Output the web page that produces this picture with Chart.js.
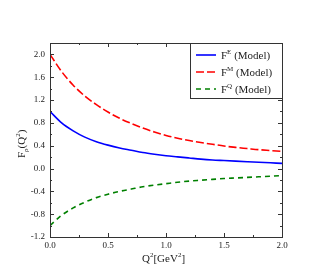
<!DOCTYPE html>
<html>
<head>
<meta charset="utf-8">
<script src="https://cdn.jsdelivr.net/npm/chart.js@4/dist/chart.umd.min.js"></script>
<style>
  html, body { margin: 0; padding: 0; background: #fff; }
  #wrap { width: 334px; height: 278px; }
</style>
</head>
<body>
<div id="wrap"><canvas id="myChart" width="334" height="278"></canvas></div>
<script>
// Q^2 values [GeV^2]
const q2 = [0.0, 0.1, 0.2, 0.3, 0.4, 0.5, 0.6, 0.7, 0.8, 0.9, 1.0,
            1.1, 1.2, 1.3, 1.4, 1.5, 1.6, 1.7, 1.8, 1.9, 2.0];

// form factors
const fE = [1.00, 0.80, 0.66, 0.55, 0.47, 0.41, 0.36, 0.32, 0.28, 0.25, 0.225,
            0.205, 0.185, 0.165, 0.15, 0.14, 0.13, 0.12, 0.11, 0.10, 0.09];
const fM = [2.00, 1.70, 1.46, 1.27, 1.12, 0.99, 0.88, 0.79, 0.71, 0.64, 0.58,
            0.53, 0.49, 0.455, 0.425, 0.395, 0.37, 0.35, 0.33, 0.315, 0.30];
const fQ = [-1.00, -0.82, -0.69, -0.59, -0.51, -0.45, -0.40, -0.36, -0.32, -0.29, -0.265,
            -0.24, -0.22, -0.205, -0.19, -0.175, -0.165, -0.155, -0.145, -0.135, -0.125];

const xTicks = [0.0, 0.5, 1.0, 1.5, 2.0];
const yTicks = [-1.2, -0.8, -0.4, 0.0, 0.4, 0.8, 1.2, 1.6, 2.0];
const xMinor = [0.25, 0.75, 1.25, 1.75];
const yMinor = [-1.0, -0.6, -0.2, 0.2, 0.6, 1.0, 1.4, 1.8, 2.2];

const sups = ['E', 'M', 'Q'];
const FONT = '"Liberation Serif", "DejaVu Serif", serif';

function pts(ys) {
    return q2.map((x, i) => ({ x: x, y: ys[i] }));
}

// frame, inward ticks, axis titles, legend
const framePlugin = {
    id: 'frame',
    afterDraw(chart) {
        const ctx = chart.ctx;
        const a = chart.chartArea;
        const xs = chart.scales.x, ys = chart.scales.y;
        ctx.save();
        ctx.strokeStyle = '#333';
        ctx.lineWidth = 1;
        ctx.strokeRect(a.left + 0.5, a.top + 0.5, a.right - a.left, a.bottom - a.top);

        ctx.beginPath();
        const tick = (list, len) => {
            list.forEach(v => {
                const px = Math.round(xs.getPixelForValue(v)) + 0.5;
                ctx.moveTo(px, a.bottom); ctx.lineTo(px, a.bottom - len);
                ctx.moveTo(px, a.top); ctx.lineTo(px, a.top + len);
            });
        };
        const tickY = (list, len) => {
            list.forEach(v => {
                const py = Math.round(ys.getPixelForValue(v)) + 0.5;
                ctx.moveTo(a.left, py); ctx.lineTo(a.left + len, py);
                ctx.moveTo(a.right, py); ctx.lineTo(a.right - len, py);
            });
        };
        tick(xTicks, 4); tick(xMinor, 2);
        tickY(yTicks, 4); tickY(yMinor, 2);
        ctx.stroke();

        ctx.fillStyle = '#222';
        // x title
        ctx.textBaseline = 'alphabetic';
        ctx.textAlign = 'left';
        let x = (a.left + a.right) / 2 - 24, y = 262;
        const part = (t, size, dy) => {
            ctx.font = size + 'px ' + FONT;
            ctx.fillText(t, x, y + dy);
            x += ctx.measureText(t).width;
        };
        part('Q', 11, 0); part('2', 7, -5); part('[GeV', 11, 0); part('2', 7, -5); part(']', 11, 0);

        // y title
        ctx.save();
        ctx.translate(25, 138);
        ctx.rotate(-Math.PI / 2);
        x = -20; y = 0;
        part('F', 11, 0); part('\u03c1', 7, 3); part('(Q', 11, 0); part('2', 7, -5); part(')', 11, 0);
        ctx.restore();

        // legend
        const lx = 190, ly = 43, lw = a.right - lx, lh = 55;
        ctx.fillStyle = '#fff';
        ctx.fillRect(lx, ly, lw, lh);
        ctx.strokeStyle = '#333';
        ctx.strokeRect(lx + 0.5, ly + 0.5, lw, lh);
        chart.data.datasets.forEach((ds, i) => {
            const ry = 55 + i * 17;
            ctx.strokeStyle = ds.borderColor;
            ctx.lineWidth = ds.borderWidth;
            ctx.setLineDash(ds.borderDash || []);
            ctx.beginPath();
            ctx.moveTo(196, ry); ctx.lineTo(216, ry);
            ctx.stroke();
            ctx.setLineDash([]);
            ctx.fillStyle = '#222';
            x = 221; y = ry + 4;
            part('F', 11, 0); part(sups[i], 7, -5); part(' (Model)', 11, 0);
        });
        ctx.restore();
    }
};

const config = {
    type: 'line',
    data: {
        datasets: [{
            label: 'F^E (Model)',
            data: pts(fE),
            borderColor: '#0000ff',
            borderWidth: 1.6,
            pointRadius: 0,
            cubicInterpolationMode: 'monotone'
        }, {
            label: 'F^M (Model)',
            data: pts(fM),
            borderColor: '#ff0000',
            borderWidth: 1.6,
            borderDash: [8, 3],
            pointRadius: 0,
            cubicInterpolationMode: 'monotone'
        }, {
            label: 'F^Q (Model)',
            data: pts(fQ),
            borderColor: '#008000',
            borderWidth: 1.6,
            borderDash: [5, 4],
            pointRadius: 0,
            cubicInterpolationMode: 'monotone'
        }]
    },
    options: {
        responsive: false,
        animation: false,
        layout: { padding: { top: 43, right: 52, left: 0, bottom: 0 } },
        plugins: { legend: { display: false }, tooltip: { enabled: false } },
        scales: {
            x: {
                type: 'linear',
                min: 0, max: 2,
                grid: { display: false, drawTicks: false },
                border: { display: false },
                afterFit(s) { s.height = 41; },
                afterBuildTicks(s) { s.ticks = xTicks.map(v => ({ value: v })); },
                ticks: {
                    color: '#222',
                    padding: 3,
                    maxRotation: 0,
                    font: { family: FONT, size: 9 },
                    callback: v => Number(v).toFixed(1)
                }
            },
            y: {
                min: -1.2, max: 2.2,
                grid: { display: false, drawTicks: false },
                border: { display: false },
                afterFit(s) { s.width = 50; },
                afterBuildTicks(s) { s.ticks = yTicks.map(v => ({ value: v })); },
                ticks: {
                    color: '#222',
                    padding: 5,
                    font: { family: FONT, size: 9 },
                    callback: v => Number(v).toFixed(1)
                }
            }
        }
    },
    plugins: [framePlugin]
};

const myChart = new Chart(document.getElementById('myChart'), config);
</script>
</body>
</html>
